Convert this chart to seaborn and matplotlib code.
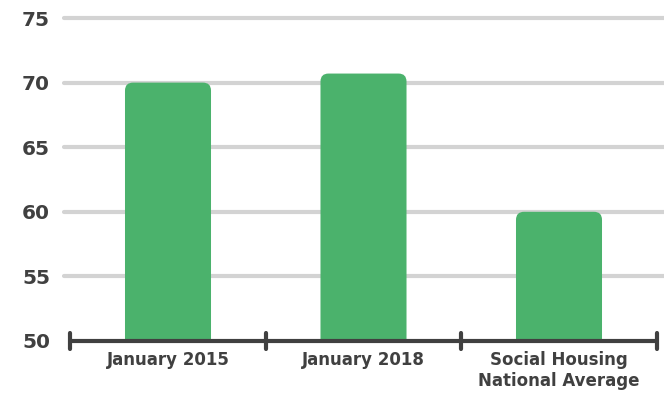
import matplotlib
matplotlib.use("Agg")
import matplotlib.pyplot as plt
import seaborn as sns
import pandas as pd
from matplotlib.patches import FancyBboxPatch

categories = ["January 2015", "January 2018", "Social Housing\nNational Average"]
values = [70.0, 70.7, 60.0]
y_ticks = [50, 55, 60, 65, 70, 75]

sns.set_theme(style="white")
plt.rcParams["font.family"] = ["DejaVu Sans"]

df = pd.DataFrame({"category": categories, "value": values})

fig = plt.figure(figsize=(6.64, 3.94), dpi=100)
ax = fig.add_axes([64 / 664, 1 - 341 / 394, 600 / 664, (341 - 18) / 394])

bar_color = "#4bb26c"
text_color = "#404040"

sns.barplot(data=df, x="category", y="value", color=bar_color, width=0.44,
            saturation=1, ax=ax, zorder=3)

px_x = 195.5
px_y = 323 / 25
ax.set_ylim(50, 75)
ax.set_xlim((64 - 168) / px_x, (664 - 168) / px_x)

# replace rectangles by rounded-top bars
r_px = 8
for p in list(ax.patches):
    x, y = p.get_x(), p.get_y()
    w, h = p.get_width(), p.get_height()
    p.remove()
    rx = r_px / px_x
    ry = r_px / px_y
    fb = FancyBboxPatch((x, y), w, h,
                        boxstyle=f"round,pad=0,rounding_size={rx}",
                        mutation_aspect=ry / rx,
                        facecolor=bar_color, edgecolor="none", zorder=3)
    ax.add_patch(fb)

# gridlines
for t in y_ticks[1:]:
    ax.axhline(t, color="#d3d3d3", lw=3, zorder=1, clip_on=False)

for s in ax.spines.values():
    s.set_visible(False)

# axis line with boundary ticks
ax.plot([-0.5, 2.5], [50, 50], color=text_color, lw=3, zorder=5, clip_on=False,
        solid_capstyle="butt")
for b in [-0.5, 0.5, 1.5, 2.5]:
    ax.plot([b, b], [50 - 8 / px_y, 50 + 8 / px_y], color=text_color, lw=3,
            zorder=5, clip_on=False, solid_capstyle="round")

ax.set_yticks(y_ticks)
ax.set_yticklabels([str(t) for t in y_ticks], fontsize=14.5, fontweight="bold",
                   color=text_color)
ax.tick_params(axis="y", length=0, pad=10)
ax.tick_params(axis="x", length=0, pad=7)
ax.set_xticks(range(len(categories)))
ax.set_xticklabels(categories, fontsize=12, fontweight="bold", color=text_color,
                   linespacing=1.22)
ax.set_xlabel("")
ax.set_ylabel("")

fig.savefig("out.png", dpi=100)
